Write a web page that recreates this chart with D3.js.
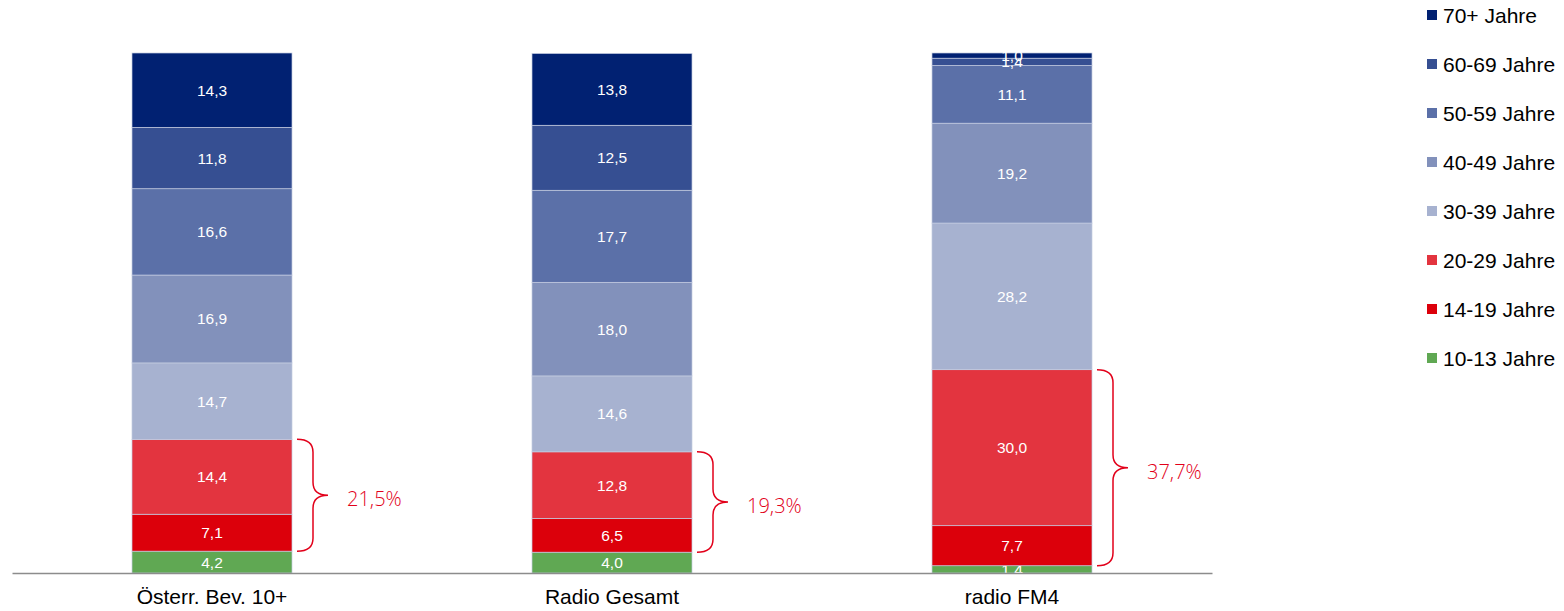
<!DOCTYPE html>
<html>
<head>
<meta charset="utf-8">
<script src="https://cdn.jsdelivr.net/npm/d3@7"></script>
<style>
  body { margin: 0; background: #fff; }
  svg text { font-family: "Liberation Sans", Arial, sans-serif; }
</style>
</head>
<body>
<svg id="vis" width="1564" height="611"></svg>
<script>
// categories and series (bottom to top)
var categories = ["Österr. Bev. 10+", "Radio Gesamt", "radio FM4"];
var ageGroups = ["10-13 Jahre", "14-19 Jahre", "20-29 Jahre", "30-39 Jahre",
                 "40-49 Jahre", "50-59 Jahre", "60-69 Jahre", "70+ Jahre"];
var colors = ["#60a853", "#dc000b", "#e3343f", "#a7b2d0",
              "#8291bb", "#5b70a8", "#364f92", "#012172"];

var v10_13 = [4.2, 4.0, 1.4];
var v14_19 = [7.1, 6.5, 7.7];
var v20_29 = [14.4, 12.8, 30.0];
var v30_39 = [14.7, 14.6, 28.2];
var v40_49 = [16.9, 18.0, 19.2];
var v50_59 = [16.6, 17.7, 11.1];
var v60_69 = [11.8, 12.5, 1.4];
var v70 = [14.3, 13.8, 1.0];

// brace: sum of 14-29 year olds
var braceLabels = ["21,5%", "19,3%", "37,7%"];

var series = [v10_13, v14_19, v20_29, v30_39, v40_49, v50_59, v60_69, v70];

var _vis = d3.select("#vis");

// build table for d3.stack
var table = categories.map(function(c, i) {
    var row = { cat: c };
    ageGroups.forEach(function(g, k) { row[g] = series[k][i]; });
    return row;
});
var stacked = d3.stack().keys(ageGroups)(table);

var x = d3.scaleBand().domain(categories).range([12, 1212]).paddingInner(0.6).paddingOuter(0.3);
var y = d3.scaleLinear().domain([0, 100]).range([573, 53]);

var fmt = function(v) { return v.toFixed(1).replace(".", ","); };

var layers = _vis.selectAll("g.layer")
    .data(stacked)
    .enter()
    .append("g")
    .attr("class", "layer")
    .attr("fill", function(d, k) { return colors[k]; });

layers.selectAll("rect")
    .data(function(d) { return d; })
    .enter()
    .append("rect")
    .attr("x", function(d) { return x(d.data.cat); })
    .attr("width", x.bandwidth())
    .attr("y", function(d) { return y(d[1]); })
    .attr("height", function(d) { return y(d[0]) - y(d[1]); })
    .attr("stroke", "#c3cbe0")
    .attr("stroke-width", 0.7);

layers.selectAll("text")
    .data(function(d) { return d; })
    .enter()
    .append("text")
    .attr("x", function(d) { return x(d.data.cat) + x.bandwidth() / 2; })
    .attr("y", function(d) { return (y(d[0]) + y(d[1])) / 2 + 5.5; })
    .attr("text-anchor", "middle")
    .attr("fill", "#fff")
    .attr("font-size", 15.5)
    .text(function(d) { return fmt(d[1] - d[0]); });

// x axis
var xAxis = _vis.append("g")
    .attr("transform", "translate(0," + y(0) + ")")
    .call(d3.axisBottom(x).tickSize(0).tickPadding(16));
xAxis.select(".domain").attr("stroke", "#8c8c8c").attr("stroke-width", 1.5);
xAxis.selectAll("text")
    .attr("font-size", 21)
    .attr("fill", "#000")
    .style("font-family", "'Liberation Sans', Arial, sans-serif");

// braces over 14-19 and 20-29
categories.forEach(function(c, i) {
    var top = y(stacked[2][i][1]);
    var bot = y(stacked[1][i][0]);
    var mid = (top + bot) / 2;
    var x0 = x(c) + x.bandwidth() + 5;
    var x1 = x0 + 16;
    var x2 = x1 + 15;
    var r = 13;
    var p = "M" + x0 + "," + top +
        " Q" + x1 + "," + top + " " + x1 + "," + (top + r) +
        " L" + x1 + "," + (mid - r) +
        " Q" + x1 + "," + mid + " " + x2 + "," + mid +
        " Q" + x1 + "," + mid + " " + x1 + "," + (mid + r) +
        " L" + x1 + "," + (bot - r) +
        " Q" + x1 + "," + bot + " " + x0 + "," + bot;
    _vis.append("path")
        .attr("d", p)
        .attr("fill", "none")
        .attr("stroke", "#e2001a")
        .attr("stroke-width", 1.5);
    _vis.append("text")
        .attr("x", x2 + 19)
        .attr("y", mid + 11)
        .attr("fill", "#e2001a")
        .attr("font-size", 20)
        .style("font-family", "'Open Sans', sans-serif")
        .style("font-weight", 300)
        .text(braceLabels[i]);
});

// legend (top = 70+)
var legendItems = ageGroups.slice().reverse();
var legendColors = colors.slice().reverse();
var legend = _vis.selectAll("g.legend")
    .data(legendItems)
    .enter()
    .append("g")
    .attr("class", "legend")
    .attr("transform", function(d, i) { return "translate(1427," + (15 + i * 49) + ")"; });
legend.append("rect")
    .attr("x", 0).attr("y", -5)
    .attr("width", 10).attr("height", 10)
    .attr("fill", function(d, i) { return legendColors[i]; });
legend.append("text")
    .attr("x", 16).attr("y", 7.5)
    .attr("font-size", 21)
    .attr("fill", "#000")
    .text(function(d) { return d; });
</script>
</body>
</html>
